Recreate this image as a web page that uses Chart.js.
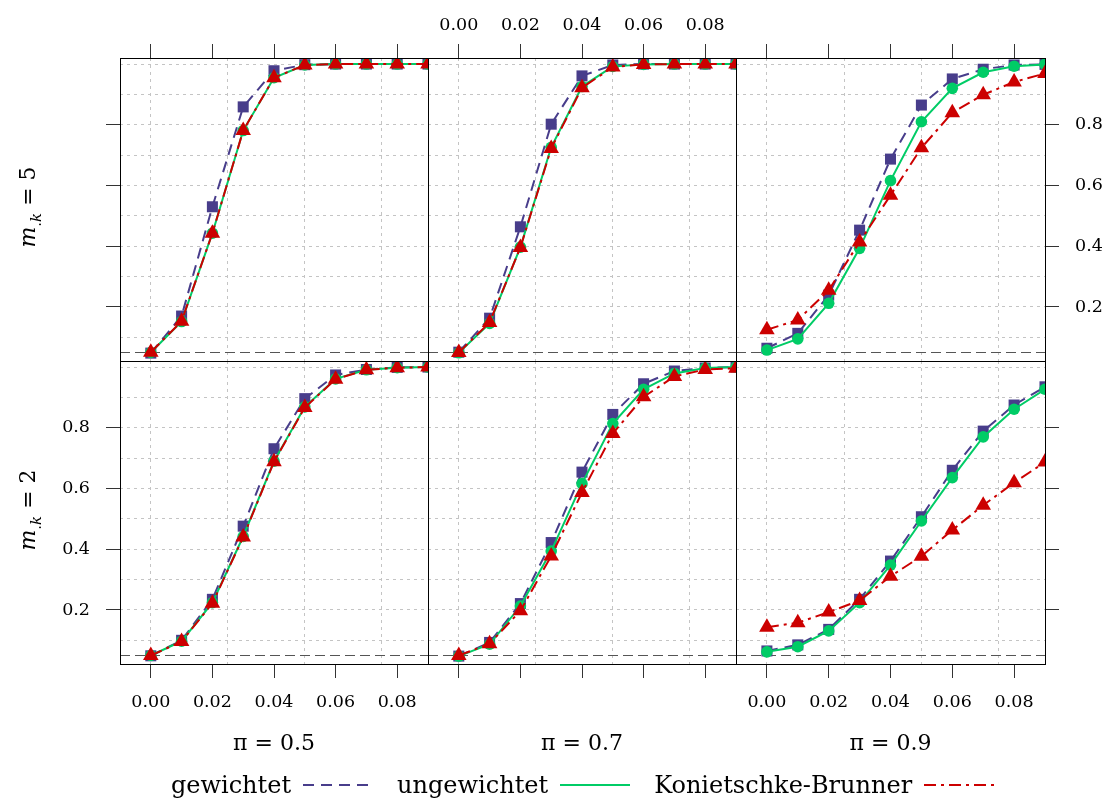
<!DOCTYPE html>
<html>
<head>
<meta charset="utf-8">
<script src="https://cdn.jsdelivr.net/npm/chart.js@4.4.1/dist/chart.umd.min.js"></script>
<style>
  body { margin: 0; background: #fff; width: 1107px; height: 800px; position: relative; overflow: hidden;
         font-family: "DejaVu Serif", serif; color: #000; }
  canvas { position: absolute; left: 0; top: 0; }
  .strip { position: absolute; font-size: 22px; white-space: nowrap; transform: translate(-50%, -50%); }
  .rowlab { position: absolute; font-size: 22px; white-space: nowrap; transform: translate(-50%, -50%) rotate(-90deg); }
  .rowlab sub { font-size: 15px; }
  #legend { position: absolute; left: 120px; width: 925px; top: 768px; height: 34px; display: flex;
            justify-content: center; align-items: center; font-size: 24px; white-space: nowrap; }
  #legend span { margin-left: 24px; margin-right: 12px; }
</style>
</head>
<body>
<script>
// x values (shift) and panel labels
const DELTA = [0, 0.01, 0.02, 0.03, 0.04, 0.05, 0.06, 0.07, 0.08, 0.09];
const PI_LABELS = ['π = 0.5', 'π = 0.7', 'π = 0.9'];
const M_LABELS = ['5', '2'];            // rows, top to bottom
const SERIES_NAMES = ['gewichtet', 'ungewichtet', 'Konietschke-Brunner'];
const X_TICKS = [0, 0.02, 0.04, 0.06, 0.08];
const Y_TICKS = [0.2, 0.4, 0.6, 0.8];
const X_GRID = [0, 0.025, 0.05, 0.075];
const Y_GRID = [0.1, 0.2, 0.3, 0.4, 0.5, 0.6, 0.7, 0.8, 0.9, 1.0];
const ALPHA = 0.05;

// m.k = 5
const gew_m5_p5 = [0.048, 0.170, 0.530, 0.859, 0.978, 0.998, 1.000, 1.000, 1.000, 1.000];
const ung_m5_p5 = [0.050, 0.152, 0.443, 0.781, 0.955, 0.997, 1.000, 1.000, 1.000, 1.000];
const kb_m5_p5  = [0.051, 0.153, 0.443, 0.781, 0.955, 0.997, 1.000, 1.000, 1.000, 1.000];
const gew_m5_p7 = [0.051, 0.163, 0.464, 0.802, 0.961, 0.997, 1.000, 1.000, 1.000, 1.000];
const ung_m5_p7 = [0.049, 0.146, 0.397, 0.726, 0.926, 0.992, 0.999, 1.000, 1.000, 1.000];
const kb_m5_p7  = [0.050, 0.149, 0.396, 0.722, 0.922, 0.990, 0.999, 1.000, 1.000, 1.000];
const gew_m5_p9 = [0.064, 0.113, 0.239, 0.453, 0.687, 0.865, 0.951, 0.983, 0.997, 0.999];
const ung_m5_p9 = [0.058, 0.095, 0.212, 0.393, 0.616, 0.810, 0.920, 0.973, 0.993, 0.999];
const kb_m5_p9  = [0.125, 0.157, 0.255, 0.414, 0.568, 0.724, 0.840, 0.899, 0.941, 0.969];

// m.k = 2
const gew_m2_p5 = [0.049, 0.100, 0.235, 0.476, 0.731, 0.896, 0.974, 0.992, 0.999, 1.000];
const ung_m2_p5 = [0.050, 0.097, 0.224, 0.442, 0.690, 0.869, 0.961, 0.991, 0.998, 1.000];
const kb_m2_p5  = [0.050, 0.096, 0.222, 0.440, 0.688, 0.867, 0.960, 0.991, 0.998, 1.000];
const gew_m2_p7 = [0.048, 0.093, 0.221, 0.422, 0.654, 0.844, 0.945, 0.987, 0.997, 1.000];
const ung_m2_p7 = [0.048, 0.087, 0.213, 0.394, 0.616, 0.814, 0.927, 0.979, 0.997, 1.000];
const kb_m2_p7  = [0.050, 0.089, 0.197, 0.378, 0.587, 0.781, 0.902, 0.969, 0.992, 0.996];
const gew_m2_p9 = [0.065, 0.085, 0.136, 0.235, 0.361, 0.507, 0.660, 0.789, 0.875, 0.935];
const ung_m2_p9 = [0.062, 0.079, 0.131, 0.224, 0.348, 0.493, 0.636, 0.770, 0.861, 0.927];
const kb_m2_p9  = [0.143, 0.158, 0.193, 0.231, 0.311, 0.377, 0.463, 0.545, 0.619, 0.687];

const PANEL_DATA = [
  [[gew_m5_p5, ung_m5_p5, kb_m5_p5], [gew_m5_p7, ung_m5_p7, kb_m5_p7], [gew_m5_p9, ung_m5_p9, kb_m5_p9]],
  [[gew_m2_p5, ung_m2_p5, kb_m2_p5], [gew_m2_p7, ung_m2_p7, kb_m2_p7], [gew_m2_p9, ung_m2_p9, kb_m2_p9]]
];

// layout
const W = 1107, H = 800;
const COL_EDGES = [120, 428, 736, 1045];
const ROW_EDGES = [58, 361, 664];
const X_MIN = -0.01, X_MAX = 0.09;
const Y_MIN = 0.022, Y_MAX = 1.02;

const STYLE = [
  { color: '#483D8B', dash: [11, 7], point: 'rect', radius: 7.8 },
  { color: '#00CC66', dash: [], point: 'circle', radius: 5.8 },
  { color: '#CC0000', dash: [12, 5, 3, 5], point: 'triangle', radius: 9 }
];

const tickFont = { family: 'DejaVu Serif', size: 17.5 };
const tickGrid = { display: true, drawOnChartArea: false, drawTicks: true, tickLength: 14, tickColor: '#333', tickWidth: 1 };

const panelBorder = {
  id: 'panelBorder',
  afterDatasetsDraw(chart) {
    const a = chart.chartArea, ctx = chart.ctx;
    ctx.save();
    ctx.strokeStyle = '#000';
    ctx.lineWidth = 1;
    ctx.strokeRect(Math.round(a.left) + 0.5, Math.round(a.top) + 0.5,
                   Math.round(a.right - a.left), Math.round(a.bottom - a.top));
    ctx.restore();
  }
};

function setTicks(values) {
  return s => { s.ticks = values.map(v => ({ value: v })); };
}

function makePanel(row, col) {
  const canvas = document.createElement('canvas');
  canvas.width = W; canvas.height = H;
  document.body.appendChild(canvas);

  const showTop = row === 0, showBottom = row === 1, showLeft = col === 0, showRight = col === 2;
  const axTop = showTop ? 45 : 0, axBottom = showBottom ? 60 : 0;
  const axLeft = showLeft ? 100 : 0, axRight = showRight ? 60 : 0;
  const padding = {
    left: COL_EDGES[col] - axLeft,
    right: W - COL_EDGES[col + 1] - axRight,
    top: ROW_EDGES[row] - axTop,
    bottom: H - ROW_EDGES[row + 1] - axBottom
  };

  const datasets = PANEL_DATA[row][col].map((vals, i) => ({
    label: SERIES_NAMES[i],
    data: DELTA.map((d, j) => ({ x: d, y: vals[j] })),
    borderColor: STYLE[i].color,
    backgroundColor: STYLE[i].color,
    borderWidth: 2,
    borderDash: STYLE[i].dash,
    pointStyle: STYLE[i].point,
    pointRadius: STYLE[i].radius,
    pointBackgroundColor: STYLE[i].color,
    pointBorderWidth: 0,
    tension: 0,
    clip: 0,
    order: 3 - i
  }));
  datasets.push({
    label: 'alpha',
    data: [{ x: X_MIN, y: ALPHA }, { x: X_MAX, y: ALPHA }],
    borderColor: '#555',
    borderWidth: 1.2,
    borderDash: [10, 5],
    pointRadius: 0,
    clip: 0,
    order: 4
  });

  new Chart(canvas, {
    type: 'line',
    data: { datasets },
    plugins: [panelBorder],
    options: {
      responsive: false,
      devicePixelRatio: 1,
      animation: false,
      events: [],
      layout: { padding },
      plugins: { legend: { display: false }, tooltip: { enabled: false } },
      scales: {
        x: {
          type: 'linear', position: 'bottom', min: X_MIN, max: X_MAX, display: showBottom,
          afterBuildTicks: setTicks(X_TICKS), afterFit: s => { s.height = axBottom; },
          grid: tickGrid, border: { display: false },
          ticks: { display: col !== 1, padding: 14, font: tickFont, color: '#000', maxRotation: 0,
                   autoSkip: false, callback: v => v.toFixed(2) }
        },
        xt: {
          type: 'linear', position: 'top', min: X_MIN, max: X_MAX, display: showTop,
          afterBuildTicks: setTicks(X_TICKS), afterFit: s => { s.height = axTop; },
          grid: tickGrid, border: { display: false },
          ticks: { display: col === 1, padding: 8, font: tickFont, color: '#000', maxRotation: 0,
                   autoSkip: false, callback: v => v.toFixed(2) }
        },
        xg: {
          type: 'linear', position: 'bottom', min: X_MIN, max: X_MAX,
          afterBuildTicks: setTicks(X_GRID), afterFit: s => { s.height = 0; },
          grid: { color: '#c4c4c4', lineWidth: 1, drawTicks: false },
          border: { display: false, dash: [3, 4] },
          ticks: { display: false }
        },
        y: {
          type: 'linear', position: 'left', min: Y_MIN, max: Y_MAX, display: showLeft,
          afterBuildTicks: setTicks(Y_TICKS), afterFit: s => { s.width = axLeft; },
          grid: tickGrid, border: { display: false },
          ticks: { display: row === 1, padding: 16, font: tickFont, color: '#000',
                   callback: v => v.toFixed(1) }
        },
        yr: {
          type: 'linear', position: 'right', min: Y_MIN, max: Y_MAX, display: showRight,
          afterBuildTicks: setTicks(Y_TICKS), afterFit: s => { s.width = axRight; },
          grid: tickGrid, border: { display: false },
          ticks: { display: row === 0, padding: 16, font: tickFont, color: '#000',
                   callback: v => v.toFixed(1) }
        },
        yg: {
          type: 'linear', position: 'left', min: Y_MIN, max: Y_MAX,
          afterBuildTicks: setTicks(Y_GRID), afterFit: s => { s.width = 0; },
          grid: { color: '#c4c4c4', lineWidth: 1, drawTicks: false },
          border: { display: false, dash: [3, 4] },
          ticks: { display: false }
        }
      }
    }
  });
}

for (let r = 0; r < 2; r++) {
  for (let c = 0; c < 3; c++) makePanel(r, c);
}

// column labels under the panels
PI_LABELS.forEach((txt, c) => {
  const d = document.createElement('div');
  d.className = 'strip';
  d.textContent = txt;
  d.style.left = ((COL_EDGES[c] + COL_EDGES[c + 1]) / 2) + 'px';
  d.style.top = '742px';
  document.body.appendChild(d);
});

// row labels on the left
M_LABELS.forEach((m, r) => {
  const d = document.createElement('div');
  d.className = 'rowlab';
  d.innerHTML = '<i>m</i><sub>.<i>k</i></sub> = ' + m;
  d.style.left = '30px';
  d.style.top = ((ROW_EDGES[r] + ROW_EDGES[r + 1]) / 2 - 3) + 'px';
  document.body.appendChild(d);
});

// legend: name followed by a line sample
const legend = document.createElement('div');
legend.id = 'legend';
SERIES_NAMES.forEach((name, i) => {
  const s = document.createElement('span');
  s.textContent = name;
  if (i === 0) s.style.marginLeft = '0px';
  legend.appendChild(s);
  const ns = 'http://www.w3.org/2000/svg';
  const svg = document.createElementNS(ns, 'svg');
  svg.setAttribute('width', '70');
  svg.setAttribute('height', '10');
  const ln = document.createElementNS(ns, 'line');
  ln.setAttribute('x1', '0'); ln.setAttribute('y1', '5');
  ln.setAttribute('x2', '70'); ln.setAttribute('y2', '5');
  ln.setAttribute('stroke', STYLE[i].color);
  ln.setAttribute('stroke-width', '2');
  if (STYLE[i].dash.length) ln.setAttribute('stroke-dasharray', STYLE[i].dash.join(' '));
  svg.appendChild(ln);
  legend.appendChild(svg);
});
document.body.appendChild(legend);
</script>
</body>
</html>
